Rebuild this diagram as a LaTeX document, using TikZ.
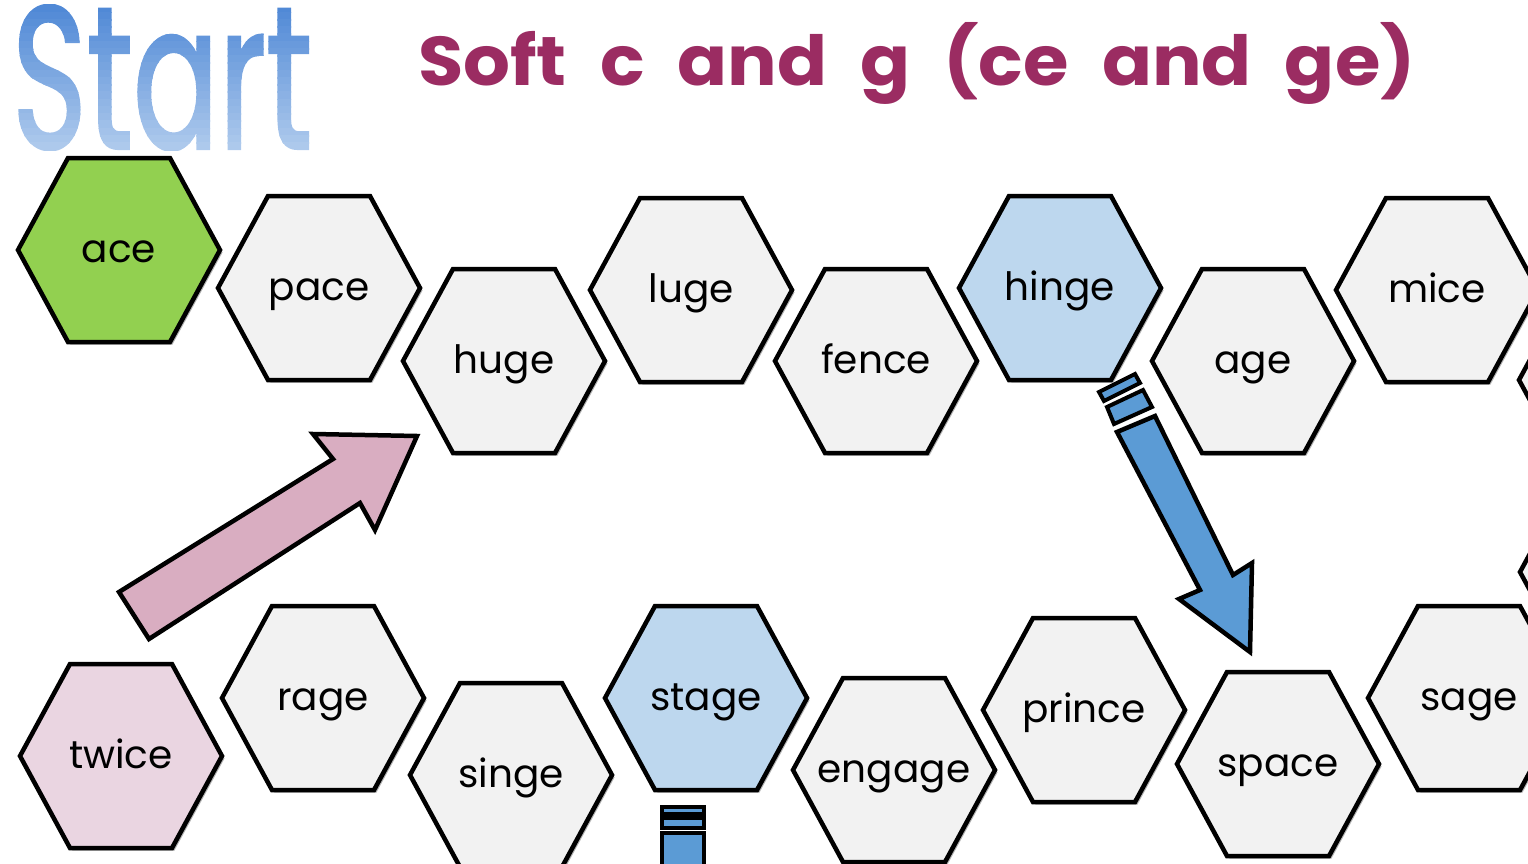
\documentclass[tikz,border=0pt]{standalone}
\usepackage{fontspec}
\setmainfont{Poppins}
\newfontfamily\startfont{Poppins}[FakeBold=1.6]
\usetikzlibrary{shadows}
\definecolor{hexgreen}{HTML}{92D050}
\definecolor{hexgray}{HTML}{F2F2F2}
\definecolor{hexblue}{HTML}{BDD7EE}
\definecolor{hexpink}{HTML}{EAD5E1}
\definecolor{arrowpink}{HTML}{D9ADC1}
\definecolor{pencilblue}{HTML}{5B9BD5}
\definecolor{titlecol}{HTML}{9B2C62}
\definecolor{starttop}{HTML}{5089D6}
\definecolor{startbot}{HTML}{ADC9EC}
\tikzset{
  hexshape/.style={draw=black, line width=4.5pt, line join=miter,
    drop shadow={shadow xshift=2.5pt, shadow yshift=-2.5pt, opacity=0.3, fill=black}},
  word/.style={font=\fontsize{39}{41}\selectfont, inner sep=0, anchor=base},
  blockarrow/.style={draw=black, line width=4.5pt, line join=miter},
}
\newcommand\hexcell[5]{%
  \path[hexshape, fill=#4] (#2,#3) ++(-101,0) -- ++(50,-92) -- ++(102,0)
     -- ++(50,92) -- ++(-50,92) -- ++(-102,0) -- cycle;
  \node[word] (#1) at (#2,#3+12) {#5};
}
\newcommand\wsp{\hspace{0.45em}}
\begin{document}
\begin{tikzpicture}[x=1pt,y=-1pt]
\useasboundingbox (0,0) rectangle (1528,864);
\clip (0,0) rectangle (1528,864);
% Start with vertical gradient
\foreach \i in {0,...,19}{
  \pgfmathsetmacro\pp{100-\i*5.26}
  \colorlet{bandcol}{starttop!\pp!startbot}
  \begin{scope}
    \clip (0,{5+\i*7.25}) rectangle (400,{5+(\i+1)*7.25+0.6});
    \node[inner sep=0, anchor=north west, text=bandcol] (start\i) at (12,5)
      {\resizebox{300pt}{143pt}{\startfont Start}};
  \end{scope}
}
% title
\node[inner sep=0, anchor=north west, text=titlecol] (title) at (418,22)
  {\resizebox*{997pt}{82pt}{\bfseries Soft\wsp c\wsp and\wsp g\wsp (ce\wsp and\wsp ge)}};
% top row
\hexcell{ace}{119}{250}{hexgreen}{ace}
\hexcell{pace}{319}{288}{hexgray}{pace}
\hexcell{luge}{691}{290}{hexgray}{luge}
\hexcell{hinge}{1060}{288}{hexblue}{hinge}
\hexcell{mice}{1437}{290}{hexgray}{mice}
\hexcell{huge}{504}{361}{hexgray}{huge}
\hexcell{fence}{876}{361}{hexgray}{fence}
\hexcell{age}{1253}{361}{hexgray}{age}
\hexcell{edgeA}{1620}{380}{hexgray}{}
\hexcell{edgeB}{1621}{572}{hexgray}{}
% bottom row
\hexcell{rage}{323}{698}{hexgray}{rage}
\hexcell{stage}{706}{698}{hexblue}{stage}
\hexcell{prince}{1084}{710}{hexgray}{prince}
\hexcell{sage}{1469}{698}{hexgray}{sage}
\hexcell{twice}{121}{756}{hexpink}{twice}
\hexcell{singe}{511}{775}{hexgray}{singe}
\hexcell{engage}{894}{770}{hexgray}{engage}
\hexcell{space}{1278}{764}{hexgray}{space}
% pink arrow
\path[blockarrow, fill=arrowpink] (119,592) -- (333,459) -- (313,434) -- (417,436)
  -- (375,530) -- (360,503) -- (149,639) -- cycle;
% blue pencil arrow
\path[blockarrow, line width=4pt, fill=pencilblue] (1099,392) -- (1135,374) -- (1140,383) -- (1104,401) -- cycle;
\path[blockarrow, line width=4pt, fill=pencilblue] (1107,407) -- (1143,390) -- (1152,407) -- (1114,424) -- cycle;
\path[blockarrow, fill=pencilblue] (1117,432) -- (1155,416) -- (1233,575) -- (1252,563)
  -- (1250,652) -- (1179,599) -- (1200,590) -- cycle;
% pencil stub under stage
\path[blockarrow, line width=4pt, fill=pencilblue] (662,807) rectangle (704,814);
\path[blockarrow, line width=4pt, fill=pencilblue] (662,818) rectangle (704,828);
\path[blockarrow, fill=pencilblue] (662,833) rectangle (704,880);
\end{tikzpicture}
\end{document}
